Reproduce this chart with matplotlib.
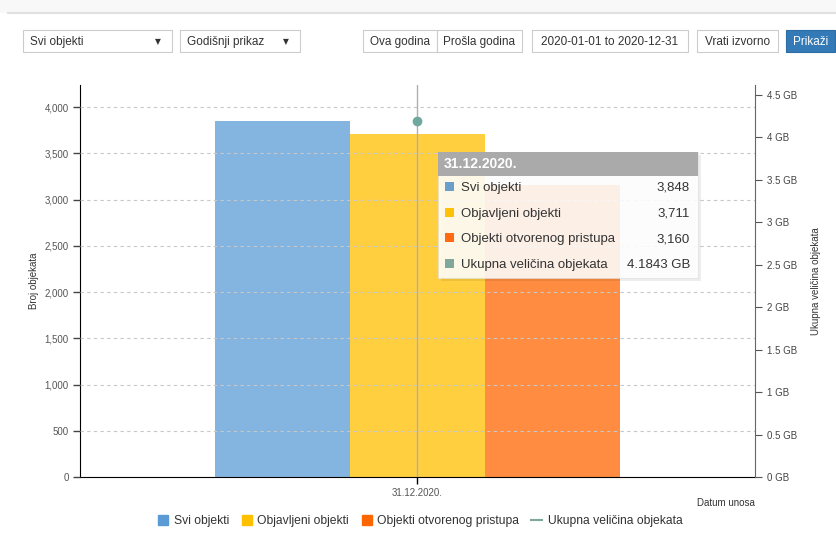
import numpy as np
import matplotlib
matplotlib.use('Agg')
import matplotlib.pyplot as plt
from matplotlib.patches import Rectangle
from matplotlib.lines import Line2D
from matplotlib.ticker import FuncFormatter, MultipleLocator

plt.rcParams['font.family'] = ['Liberation Sans', 'DejaVu Sans']

# data
categories = ['31.12.2020.']
svi_objekti = [3848]
objavljeni = [3711]
otvoreni_pristup = [3160]
velicina_gb = [4.1843]
series_names = ['Svi objekti', 'Objavljeni objekti', 'Objekti otvorenog pristupa',
                'Ukupna veličina objekata']

W, H = 837, 536
fig = plt.figure(figsize=(W / 100, H / 100), dpi=100)

def fx(x):
  return x / W

def fy(y):
  return 1 - y / H

ax = fig.add_axes([fx(80), fy(477), fx(755) - fx(80), fy(85) - fy(477)])
ax2 = ax.twinx()

bar_cols = ['#84b4e0', '#ffcf40', '#ff8c40']
x = np.arange(len(categories))
w = 0.2
for i, (vals, c) in enumerate(zip([svi_objekti, objavljeni, otvoreni_pristup], bar_cols)):
  ax.bar(x + (i - 1) * w, vals, width=w, color=c, zorder=1)

ax.set_xlim(-0.5, 0.5)
ax.set_ylim(0, 4238)
ax.yaxis.set_major_locator(MultipleLocator(500))
ax.yaxis.set_major_formatter(FuncFormatter(lambda v, p: f'{int(v):,}'))
ax.set_xticks(x)
ax.set_xticklabels(categories)
ax.grid(axis='y', color='#c8c8c8', linestyle=(0, (3, 3)), linewidth=0.8)
ax.set_axisbelow(False)
ax.tick_params(axis='both', labelsize=7, labelcolor='#555555', length=5, width=1, pad=3)
ax.tick_params(axis='y', colors='#444444', labelcolor='#555555')
ax.spines['top'].set_visible(False)
ax.spines['right'].set_visible(False)
ax.set_ylabel('Broj objekata', fontsize=7, color='#333333', labelpad=4)

# crosshair
ax.axvline(0, color='#b0b0b0', linewidth=1, zorder=3)

ax2.plot(x, velicina_gb, 'o', color='#70a8a0', markersize=6, zorder=4)
ax2.set_ylim(0, 4.612)
ax2.yaxis.set_major_locator(MultipleLocator(0.5))
ax2.yaxis.set_major_formatter(FuncFormatter(lambda v, p: f'{v:g} GB'))
ax2.tick_params(axis='y', labelsize=7, labelcolor='#444444', colors='#555555', length=5)
for s in ['top', 'left', 'bottom']:
  ax2.spines[s].set_visible(False)
ax2.spines['right'].set_color('#666666')
ax2.set_ylabel('Ukupna veličina objekata', fontsize=7, color='#333333', labelpad=10)

fig.text(fx(755), fy(503), 'Datum unosa', fontsize=7, color='#333333', ha='right', va='center')

# legend
legend_cols = ['#5b9bd5', '#ffc000', '#ff6600']
handles = [Line2D([], [], marker='s', linestyle='none', color=c, markersize=7) for c in legend_cols]
handles.append(Line2D([], [], color='#7fa89a', linewidth=1.5))
fig.legend(handles, series_names, loc='center', bbox_to_anchor=(fx(420), fy(521)), ncol=4,
           frameon=False, fontsize=8.7, handlelength=0.9, handletextpad=0.45, columnspacing=1.0,
           labelcolor='#333333')

# tooltip
tx0, tx1, ty0, ty1 = 438, 698, 152, 278
fig.add_artist(Rectangle((fx(tx0 + 3), fy(ty1 + 3)), fx(tx1 - tx0), fy(ty0) - fy(ty1),
                         transform=fig.transFigure, facecolor='#000000', alpha=0.07, linewidth=0))
fig.add_artist(Rectangle((fx(tx0), fy(ty1)), fx(tx1 - tx0), fy(ty0) - fy(ty1),
                         transform=fig.transFigure, facecolor='white', alpha=0.88,
                         edgecolor='#dddddd', linewidth=0.5))
fig.add_artist(Rectangle((fx(tx0), fy(176)), fx(tx1 - tx0), fy(ty0) - fy(176),
                         transform=fig.transFigure, facecolor='#aaaaaa', linewidth=0))
fig.text(fx(444), fy(164), '31.12.2020.', fontsize=10, fontweight='bold', color='white',
         va='center')
tip_cols = ['#6a9fcb', '#ffc107', '#ff6a13', '#7fa89a']
tip_vals = [f'{svi_objekti[0]:,}', f'{objavljeni[0]:,}', f'{otvoreni_pristup[0]:,}',
            f'{velicina_gb[0]} GB']
for i, (name, val, c) in enumerate(zip(series_names, tip_vals, tip_cols)):
  yy = 188 + i * 25.7
  fig.add_artist(Rectangle((fx(445), fy(yy + 3)), fx(9), fy(0) - fy(9),
                           transform=fig.transFigure, facecolor=c, linewidth=0))
  fig.text(fx(461), fy(yy), name, fontsize=9.5, color='#333333', va='center')
  fig.text(fx(690), fy(yy), val, fontsize=9.5, color='#333333', va='center', ha='right')

# top controls
fig.add_artist(Rectangle((0, fy(13)), 1, fy(0) - fy(13), transform=fig.transFigure,
                         facecolor='#f8f8f8', edgecolor='none'))
fig.add_artist(Line2D([fx(8), 1], [fy(13), fy(13)], transform=fig.transFigure,
                      color='#e0e0e0', linewidth=1.5))

def box(x0, x1, label, fc='white', ec='#cccccc', tc='#333333', arrow=False):
  fig.add_artist(Rectangle((fx(x0), fy(52)), fx(x1 - x0), fy(30) - fy(52),
                           transform=fig.transFigure, facecolor=fc, edgecolor=ec, linewidth=0.8))
  if arrow:
    fig.text(fx(x0 + 7), fy(42), label, fontsize=8.5, color=tc, va='center')
    fig.text(fx(x1 - 14), fy(42), '▼', fontsize=5.5, color='#333333', va='center',
             ha='center', family='DejaVu Sans')
  else:
    fig.text(fx((x0 + x1) / 2), fy(42), label, fontsize=8.5, color=tc, va='center',
             ha='center')

box(23, 172, 'Svi objekti', arrow=True)
box(180, 300, 'Godišnji prikaz', arrow=True)
box(363, 437, 'Ova godina')
box(437, 522, 'Prošla godina')
box(532, 688, '2020-01-01 to 2020-12-31')
box(697, 778, 'Vrati izvorno')
box(786, 835, 'Prikaži', fc='#337ab7', ec='#2e6da4', tc='white')

fig.savefig('out.png', dpi=100, facecolor='white')
